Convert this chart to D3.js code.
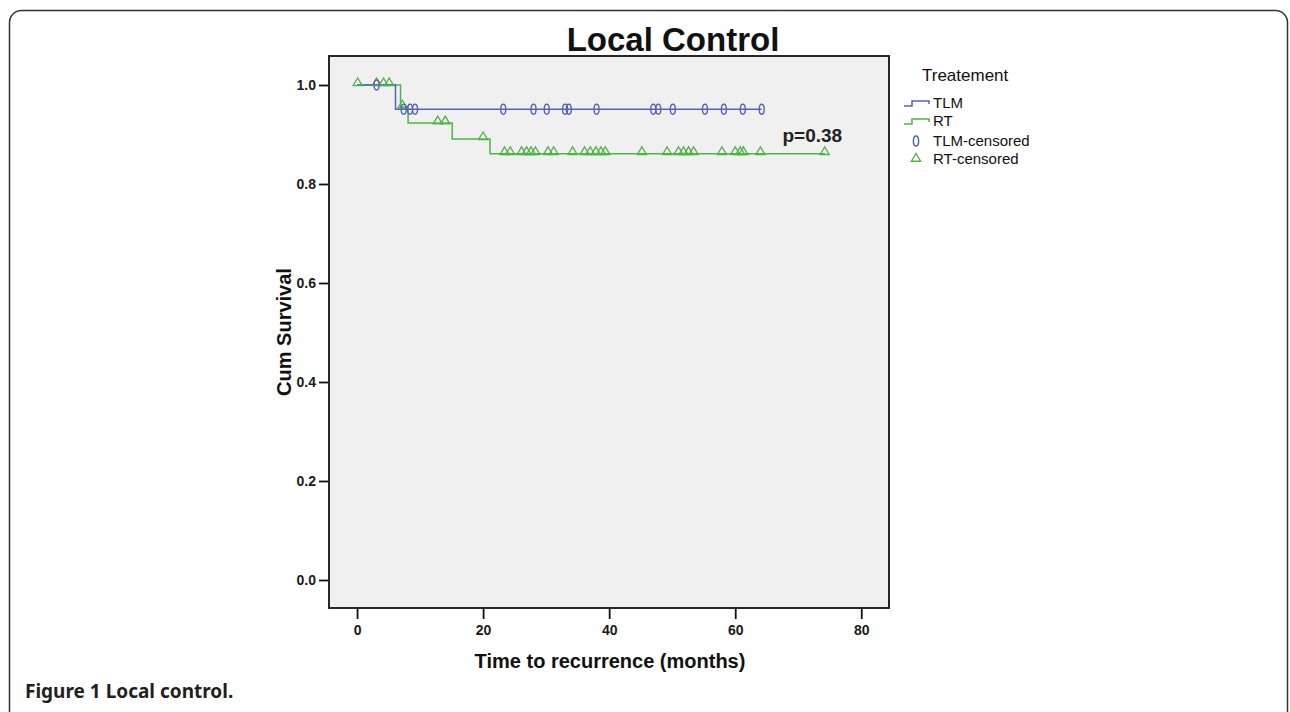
<!DOCTYPE html>
<html>
<head>
<meta charset="utf-8">
<script src="https://cdn.jsdelivr.net/npm/d3@7"></script>
<style>
  html, body { margin: 0; padding: 0; background: #fff; }
  svg { display: block; }
</style>
</head>
<body>
<svg id="chart" width="1290" height="712"></svg>
<script>
// ---- Data ----
const chartTitle = "Local Control";
const groups = ["TLM", "RT"];
const legendTitle = "Treatement";
const legendLabels = ["TLM", "RT", "TLM-censored", "RT-censored"];

// Kaplan-Meier step curves: event times and survival after each event
const tlmEventTimes = [6.1];
const tlmSurvAfter  = [0.951];
const tlmEndTime = 64.2;

const rtEventTimes = [6.9, 8.1, 15.1, 21.1];
const rtSurvAfter  = [0.955, 0.923, 0.891, 0.861];
const rtEndTime = 74.2;

// Censored observations (months)
const tlmCensorTimes = [3.1, 7.4, 8.4, 9.2, 23.2, 28.0, 30.1, 33.0, 33.6, 38.0,
                        47.0, 47.8, 50.1, 55.2, 58.2, 61.2, 64.2];
const rtCensorTimes = [0.1, 3.1, 4.2, 5.1, 7.2, 12.8, 14.0, 20.0, 23.4, 24.3,
                       26.1, 26.9, 27.6, 28.3, 30.3, 31.2, 34.2, 36.1, 37.0, 37.9,
                       38.7, 39.4, 45.2, 49.2, 51.0, 51.8, 52.6, 53.4, 57.9, 60.0,
                       60.8, 61.3, 64.0, 74.2];

const xTicks = [0, 20, 40, 60, 80];
const yTicks = [0.0, 0.2, 0.4, 0.6, 0.8, 1.0];
const xDomain = [-4.45, 84.4];
const yDomain = [-0.0566, 1.0586];
const pValueText = "p=0.38";
const xLabel = "Time to recurrence (months)";
const yLabel = "Cum Survival";
const captionBold = "Figure 1";
const captionRest = " Local control.";

// ---- Layout ----
const plot = { left: 329, top: 56, right: 889, bottom: 608 };
const colors = { TLM: "#5763b6", RT: "#52b24a" };
const lf = "Arial, 'Liberation Sans', sans-serif";

const svg = d3.select("#chart");

// Figure frame
svg.append("rect")
  .attr("x", 9.5).attr("y", 10.5)
  .attr("width", 1278).attr("height", 800)
  .attr("rx", 12).attr("ry", 12)
  .attr("fill", "none").attr("stroke", "#333").attr("stroke-width", 1.5);

const x = d3.scaleLinear().domain(xDomain).range([plot.left, plot.right]);
const y = d3.scaleLinear().domain(yDomain).range([plot.bottom, plot.top]);

// Plot background
svg.append("rect")
  .attr("x", plot.left).attr("y", plot.top)
  .attr("width", plot.right - plot.left).attr("height", plot.bottom - plot.top)
  .attr("fill", "#f0f0f0");

// Step function helpers
function stepPoints(eventTimes, survAfter, endTime) {
  const pts = [[0, 1.0]];
  eventTimes.forEach((t, i) => pts.push([t, survAfter[i]]));
  pts.push([endTime, survAfter[survAfter.length - 1]]);
  return pts;
}
function survAt(t, eventTimes, survAfter) {
  let s = 1.0;
  eventTimes.forEach((e, i) => { if (e <= t) s = survAfter[i]; });
  return s;
}

const line = d3.line()
  .x(d => x(d[0])).y(d => y(d[1]))
  .curve(d3.curveStepAfter);

const tlmPts = stepPoints(tlmEventTimes, tlmSurvAfter, tlmEndTime);
const rtPts = stepPoints(rtEventTimes, rtSurvAfter, rtEndTime);

const g = svg.append("g");
g.append("path").datum(rtPts)
  .attr("d", line).attr("fill", "none")
  .attr("stroke", colors.RT).attr("stroke-width", 1.5);
g.append("path").datum(tlmPts)
  .attr("d", line).attr("fill", "none")
  .attr("stroke", colors.TLM).attr("stroke-width", 1.5);

// Censor marks
const triPath = "M0,-4.5 L4.6,3.2 L-4.6,3.2 Z";
g.selectAll(".rtc").data(rtCensorTimes).enter().append("path")
  .attr("class", "rtc")
  .attr("transform", d => `translate(${x(d)},${y(survAt(d, rtEventTimes, rtSurvAfter)) - 2.5})`)
  .attr("d", triPath)
  .attr("fill", "none").attr("stroke", colors.RT).attr("stroke-width", 1.3);

g.selectAll(".tlmc").data(tlmCensorTimes).enter().append("ellipse")
  .attr("class", "tlmc")
  .attr("cx", d => x(d))
  .attr("cy", d => y(survAt(d, tlmEventTimes, tlmSurvAfter)))
  .attr("rx", 2.5).attr("ry", 5)
  .attr("fill", "none").attr("stroke", colors.TLM).attr("stroke-width", 1.4);

// Plot frame
svg.append("rect")
  .attr("x", plot.left).attr("y", plot.top)
  .attr("width", plot.right - plot.left).attr("height", plot.bottom - plot.top)
  .attr("fill", "none").attr("stroke", "#111").attr("stroke-width", 1.8);

// Axes
const yAxis = d3.axisLeft(y).tickValues(yTicks).tickFormat(d3.format(".1f"))
  .tickSize(9).tickPadding(3);
const yg = svg.append("g").attr("transform", `translate(${plot.left - 1},0)`).call(yAxis);
yg.attr("font-family", lf).attr("font-size", 14);
yg.select(".domain").remove();
yg.selectAll("line").attr("stroke", "#111").attr("stroke-width", 1.8);
yg.selectAll("text").attr("font-weight", "bold").attr("fill", "#1a1a1a");

const xAxis = d3.axisBottom(x).tickValues(xTicks).tickFormat(d3.format("d"))
  .tickSize(10).tickPadding(6);
const xg = svg.append("g").attr("transform", `translate(0,${plot.bottom + 1})`).call(xAxis);
xg.attr("font-family", lf).attr("font-size", 14);
xg.select(".domain").remove();
xg.selectAll("line").attr("stroke", "#111").attr("stroke-width", 1.8);
xg.selectAll("text").attr("font-weight", "bold").attr("fill", "#1a1a1a");

// Title
svg.append("text")
  .attr("x", 673).attr("y", 51)
  .attr("text-anchor", "middle")
  .attr("font-family", lf)
  .attr("font-weight", "bold").attr("font-size", 33)
  .attr("fill", "#111")
  .text(chartTitle);

// Axis labels
svg.append("text")
  .attr("x", 610).attr("y", 668)
  .attr("text-anchor", "middle")
  .attr("font-family", lf)
  .attr("font-weight", "bold").attr("font-size", 20)
  .attr("fill", "#111")
  .text(xLabel);

svg.append("text")
  .attr("transform", "translate(291,332) rotate(-90)")
  .attr("text-anchor", "middle")
  .attr("font-family", lf)
  .attr("font-weight", "bold").attr("font-size", 20)
  .attr("fill", "#111")
  .text(yLabel);

// p-value annotation
svg.append("text")
  .attr("x", x(67.5)).attr("y", 142)
  .attr("font-family", lf)
  .attr("font-weight", "bold").attr("font-size", 19)
  .attr("fill", "#222")
  .text(pValueText);

// Legend
const lg = svg.append("g");
lg.append("text").attr("x", 922).attr("y", 81)
  .attr("font-family", lf).attr("font-size", 17).attr("fill", "#111")
  .text(legendTitle);

const legendRowsY = [103, 121, 141, 159];
groups.forEach((grp, i) => {
  const yy = legendRowsY[i];
  lg.append("path")
    .attr("d", `M904,${yy + 3} H912 V${yy - 2} H929 V${yy + 1}`)
    .attr("fill", "none").attr("stroke", colors[grp]).attr("stroke-width", 1.5);
  lg.append("text").attr("x", 933).attr("y", yy + 5)
    .attr("font-family", lf).attr("font-size", 15).attr("fill", "#111")
    .text(legendLabels[i]);
});
lg.append("ellipse")
  .attr("cx", 916).attr("cy", legendRowsY[2])
  .attr("rx", 2.6).attr("ry", 5)
  .attr("fill", "none").attr("stroke", colors.TLM).attr("stroke-width", 1.5);
lg.append("text").attr("x", 933).attr("y", legendRowsY[2] + 5)
  .attr("font-family", lf).attr("font-size", 15).attr("fill", "#111")
  .text(legendLabels[2]);
lg.append("path")
  .attr("transform", `translate(916,${legendRowsY[3] - 1})`)
  .attr("d", triPath)
  .attr("fill", "none").attr("stroke", colors.RT).attr("stroke-width", 1.4);
lg.append("text").attr("x", 933).attr("y", legendRowsY[3] + 5)
  .attr("font-family", lf).attr("font-size", 15).attr("fill", "#111")
  .text(legendLabels[3]);

// Caption
const cap = svg.append("text")
  .attr("x", 25).attr("y", 698)
  .attr("font-family", "'Noto Sans', 'Open Sans', sans-serif")
  .attr("font-size", 19).attr("fill", "#231f20");
cap.append("tspan").attr("font-weight", "bold").text(captionBold);
cap.append("tspan").attr("font-weight", "bold").text(captionRest);
</script>
</body>
</html>
